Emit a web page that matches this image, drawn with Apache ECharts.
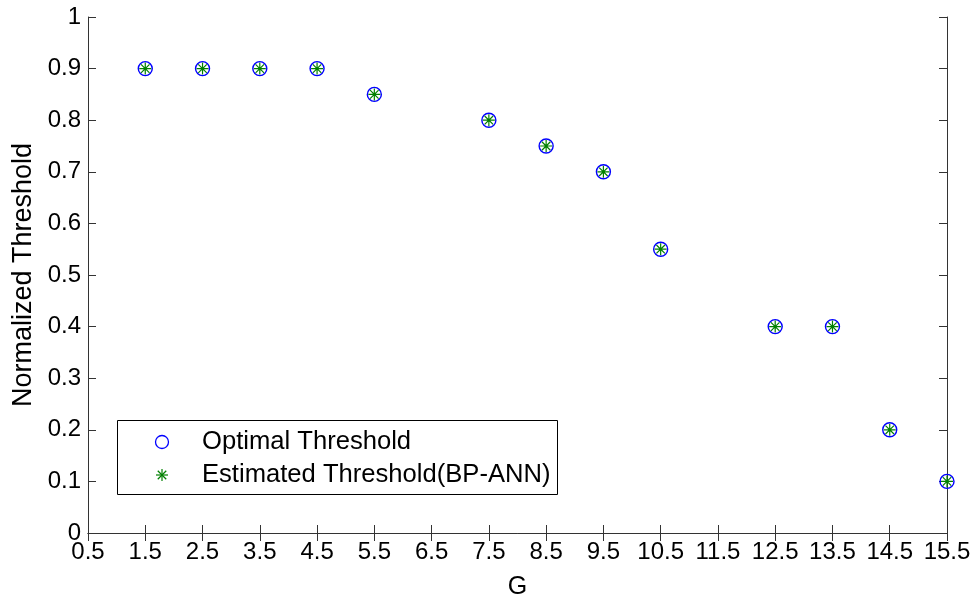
<!DOCTYPE html>
<html><head><meta charset="utf-8">
<script src="https://cdn.jsdelivr.net/npm/echarts@6/dist/echarts.min.js"></script>
<style>html,body{margin:0;padding:0;background:#fff}#c{width:976px;height:601px}</style>
</head><body><div id="c"></div>
<script>
var gValues = [1.5, 2.5, 3.5, 4.5, 5.5, 7.5, 8.5, 9.5, 10.5, 12.5, 13.5, 14.5, 15.5];
var optimalThreshold = [0.9, 0.9, 0.9, 0.9, 0.85, 0.8, 0.75, 0.7, 0.55, 0.4, 0.4, 0.2, 0.1];
var estimatedThreshold = [0.9, 0.9, 0.9, 0.9, 0.85, 0.8, 0.75, 0.7, 0.55, 0.4, 0.4, 0.2, 0.1];
var seriesNames = ['Optimal Threshold', 'Estimated Threshold(BP-ANN)'];

function pairs(xs, ys) { return xs.map(function (x, i) { return [x, ys[i]]; }); }
var FONT = '"Liberation Sans", Arial, sans-serif';
var star = 'path://M0,-10L0,10M-10,0L10,0M-7.07,-7.07L7.07,7.07M-7.07,7.07L7.07,-7.07';
var axisCol = '#333';
var tickCommon = { inside: true, length: 8, lineStyle: { color: axisCol, width: 1 } };

function starLines(cx, cy, r) {
  var d = r * 0.7071;
  var segs = [[0, -r, 0, r], [-r, 0, r, 0], [-d, -d, d, d], [-d, d, d, -d]];
  return segs.map(function (s) {
    return { type: 'line', z: 101,
      shape: { x1: cx + s[0], y1: cy + s[1], x2: cx + s[2], y2: cy + s[3] },
      style: { stroke: '#008000', lineWidth: 1.2 } };
  });
}

var chart = echarts.init(document.getElementById('c'), null, { renderer: 'canvas' });
chart.setOption({
  animation: false,
  backgroundColor: '#fff',
  grid: { left: 88, right: 29, top: 17, bottom: 68, containLabel: false, outerBoundsMode: 'none' },
  xAxis: [{
    type: 'value', min: 0.5, max: 15.5, interval: 1,
    name: 'G', nameLocation: 'middle', nameGap: 42,
    nameTextStyle: { fontFamily: FONT, fontSize: 25, color: '#000' },
    axisLine: { show: true, lineStyle: { color: axisCol, width: 1 } },
    axisTick: tickCommon,
    axisLabel: { fontFamily: FONT, fontSize: 24, color: '#000', margin: 7 },
    splitLine: { show: false }
  }, {
    type: 'value', position: 'top', min: 0.5, max: 15.5, interval: 1,
    axisLine: { show: true, lineStyle: { color: axisCol, width: 1 } },
    axisTick: tickCommon, axisLabel: { show: false }, splitLine: { show: false }
  }],
  yAxis: [{
    type: 'value', min: 0, max: 1, interval: 0.1,
    name: 'Normalized Threshold', nameLocation: 'middle', nameGap: 50,
    nameTextStyle: { fontFamily: FONT, fontSize: 27, color: '#000' },
    axisLine: { show: true, lineStyle: { color: axisCol, width: 1 } },
    axisTick: tickCommon,
    axisLabel: { fontFamily: FONT, fontSize: 24, color: '#000', margin: 7 },
    splitLine: { show: false }
  }, {
    type: 'value', position: 'right', min: 0, max: 1, interval: 0.1,
    axisLine: { show: true, lineStyle: { color: axisCol, width: 1 } },
    axisTick: tickCommon, axisLabel: { show: false }, splitLine: { show: false }
  }],
  graphic: [
    { type: 'rect', shape: { x: 117.5, y: 420.5, width: 440, height: 74 },
      style: { fill: '#fff', stroke: '#000', lineWidth: 1 }, z: 100 },
    { type: 'circle', shape: { cx: 162, cy: 442, r: 6.5 },
      style: { fill: 'none', stroke: '#0000ff', lineWidth: 1.3 }, z: 101 },
    { type: 'text', x: 202, y: 442, z: 101,
      style: { text: seriesNames[0], font: '25.6px ' + FONT, fill: '#000', verticalAlign: 'middle' } },
    { type: 'text', x: 202, y: 475, z: 101,
      style: { text: seriesNames[1], font: '25.6px ' + FONT, fill: '#000', verticalAlign: 'middle' } }
  ].concat(starLines(162, 475, 6)),
  series: [{
    name: seriesNames[0], type: 'scatter', clip: false,
    data: pairs(gValues, optimalThreshold),
    symbol: 'circle', symbolSize: 14,
    itemStyle: { color: 'rgba(0,0,0,0)', borderColor: '#0000ff', borderWidth: 1.4, opacity: 1 }
  }, {
    name: seriesNames[1], type: 'scatter', clip: false,
    data: pairs(gValues, estimatedThreshold),
    symbol: star, symbolSize: 12,
    itemStyle: { color: 'rgba(0,0,0,0)', borderColor: '#008000', borderWidth: 1.2, opacity: 1 }
  }]
});
</script></body></html>
